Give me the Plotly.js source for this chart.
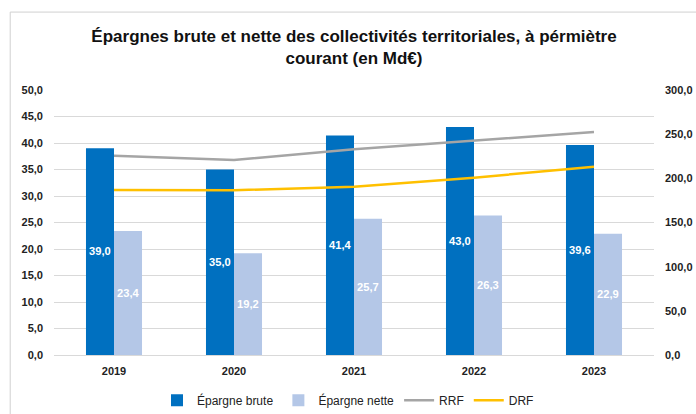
<!DOCTYPE html>
<html><head><meta charset="utf-8">
<script src="https://cdn.plot.ly/plotly-3.0.1.min.js"></script>
<style>html,body{margin:0;padding:0;background:#fff}#c{width:696px;height:414px}</style>
</head><body><div id="c"></div>
<script>
const years = ['2019','2020','2021','2022','2023'];
const epargneBrute = [39.0, 35.0, 41.4, 43.0, 39.6];
const epargneNette = [23.4, 19.2, 25.7, 26.3, 22.9];
const rrf = [225.6, 220.7, 232.9, 243.0, 252.5];
const drf = [186.8, 186.5, 190.6, 200.7, 213.2];

const fnt = '"Liberation Sans", Arial, sans-serif';
const fmt = v => v.toFixed(1).replace('.', ',');

const traces = [
  {type:'bar', name:'Épargne brute', x:years, y:epargneBrute, marker:{color:'#0070C0'},
   text:epargneBrute.map(fmt), textposition:'inside', insidetextanchor:'middle', textangle:0,
   textfont:{family:fnt, size:12, color:'#ffffff', weight:'bold'},
   hoverinfo:'none'},
  {type:'bar', name:'Épargne nette', x:years, y:epargneNette, marker:{color:'#B4C7E7'},
   text:epargneNette.map(fmt), textposition:'inside', insidetextanchor:'middle', textangle:0,
   textfont:{family:fnt, size:12, color:'#ffffff', weight:'bold'},
   hoverinfo:'none'},
  {type:'scatter', mode:'lines', name:'RRF', x:years, y:rrf, yaxis:'y2', line:{color:'#A5A5A5', width:2.5}},
  {type:'scatter', mode:'lines', name:'DRF', x:years, y:drf, yaxis:'y2', line:{color:'#FFC000', width:2.5}}
];

const layout = {
  width:696, height:414,
  margin:{l:54, r:42, t:90, b:59},
  paper_bgcolor:'#fff', plot_bgcolor:'#fff',
  separators:', ',
  barmode:'group', bargap:0.533, bargroupgap:0,
  title:{text:'Épargnes brute et nette des collectivités territoriales, à pérmiètre<br>courant (en Md€)',
    font:{family:fnt, size:17, color:'#111', weight:'bold'}, x:0.5, xanchor:'center', xref:'paper', y:0.898, yanchor:'top'},
  xaxis:{type:'category', showgrid:false, zeroline:false, showline:true, linecolor:'#D9D9D9', linewidth:1,
    tickfont:{family:fnt, size:11, color:'#222', weight:'bold'}, ticks:'', ticklabelstandoff:6},
  yaxis:{range:[0,50], dtick:5, tickformat:'.1f', showgrid:true, gridcolor:'#D9D9D9', gridwidth:1,
    zeroline:false, showline:false, ticks:'', ticklabelstandoff:10, automargin:false,
    tickfont:{family:fnt, size:11, color:'#222', weight:'bold'}},
  yaxis2:{range:[0,300], dtick:50, tickformat:'.1f', overlaying:'y', side:'right', showgrid:false,
    zeroline:false, showline:false, ticks:'', ticklabelstandoff:10, automargin:false,
    tickfont:{family:fnt, size:11, color:'#222', weight:'bold'}},
  legend:{orientation:'h', x:0.5, xanchor:'center', xref:'container', y:0.033, yanchor:'middle', yref:'container',
    font:{family:fnt, size:12, color:'#222'}, traceorder:'normal', itemwidth:30},
  shapes:[
    {type:'line', xref:'paper', yref:'paper', x0:-0.073, x1:1.2, y0:1.294, y1:1.294, line:{color:'#D0D0D0', width:1}},
    {type:'line', xref:'paper', yref:'paper', x0:-0.073, x1:-0.073, y0:1.294, y1:-0.3, line:{color:'#D0D0D0', width:1}}
  ],
  showlegend:true
};

Plotly.newPlot('c', traces, layout, {displayModeBar:false, staticPlot:true});
</script></body></html>
